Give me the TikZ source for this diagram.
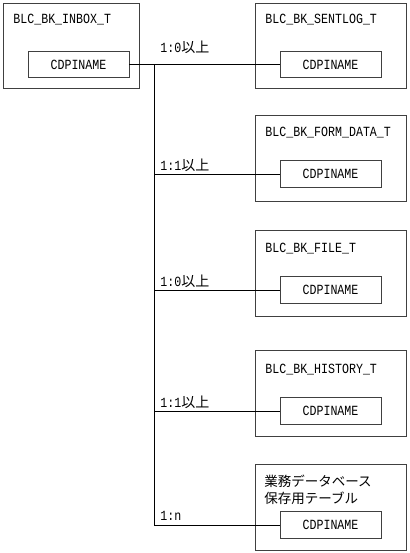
\documentclass[tikz,border=0pt]{standalone}
\usepackage{fontspec}
\newfontfamily\latf[FakeStretch=0.83]{Liberation Mono}
\newfontfamily\cjkf{Noto Sans CJK JP}
\begin{document}
\begin{tikzpicture}[x=1pt,y=-1pt,
  line width=0.8pt,
  outerbox/.style={draw=black!75, rectangle, anchor=north west, inner sep=0pt, minimum height=85.5pt},
  colbox/.style={draw=black!75, rectangle, inner sep=0pt, minimum width=101pt, minimum height=26.5pt, font=\fontsize{14}{17}\selectfont\latf},
  title/.style={anchor=west, inner sep=0pt, font=\fontsize{14}{17}\selectfont\latf},
  rel/.style={anchor=west, inner sep=0pt, font=\fontsize{14}{17}\selectfont},
  conn/.style={draw=black, line width=0.8pt}]
\useasboundingbox (0,0) rectangle (409,553);
\fill[white] (0,0) rectangle (409,553);
% source table
\node[outerbox, minimum width=136pt] (inbox) at (3,3) {};
\node[title] (inboxt) at (13,20) {BLC\_BK\_INBOX\_T};
\node[colbox] (inboxc) at (78.5,64.5) {CDPINAME};
% target tables
\node[outerbox, minimum width=151pt] (sent) at (255,3) {};
\node[title] (sentt) at (265,20) {BLC\_BK\_SENTLOG\_T};
\node[colbox] (sentc) at (330.5,64.5) {CDPINAME};

\node[outerbox, minimum width=151pt] (form) at (255,115) {};
\node[title] (formt) at (265,133) {BLC\_BK\_FORM\_DATA\_T};
\node[colbox] (formc) at (330.5,174) {CDPINAME};

\node[outerbox, minimum width=151pt] (file) at (255,230) {};
\node[title] (filet) at (265,249) {BLC\_BK\_FILE\_T};
\node[colbox] (filec) at (330.5,290) {CDPINAME};

\node[outerbox, minimum width=151pt] (hist) at (255,350) {};
\node[title] (histt) at (265,370) {BLC\_BK\_HISTORY\_T};
\node[colbox] (histc) at (330.5,411) {CDPINAME};

\node[outerbox, minimum width=151pt] (gyomu) at (255,464) {};
\node[anchor=north west, inner sep=0pt, align=left, font=\fontsize{13.5}{16.5}\selectfont\cjkf] (gyomut) at (264,475) {業務データベース\\保存用テーブル};
\node[colbox] (gyomuc) at (330.5,525) {CDPINAME};
% connectors
\coordinate (t0) at (154,64.5);
\coordinate (t1) at (154,174);
\coordinate (t2) at (154,290);
\coordinate (t3) at (154,411);
\coordinate (t4) at (154,525);
\draw[conn] (inboxc.east) -- (sentc.west);
\draw[conn] (t0) -- (t4);
\draw[conn] (t1) -- (formc.west);
\draw[conn] (t2) -- (filec.west);
\draw[conn] (t3) -- (histc.west);
\draw[conn] (t4) -- (gyomuc.west);
% labels
\node[rel] (l0) at (160,47) {\latf 1:0\cjkf 以上};
\node[rel] (l1) at (160,165) {\latf 1:1\cjkf 以上};
\node[rel] (l2) at (160,281) {\latf 1:0\cjkf 以上};
\node[rel] (l3) at (160,402) {\latf 1:1\cjkf 以上};
\node[rel] (l4) at (160,516) {\latf 1:n};
\end{tikzpicture}
\end{document}
